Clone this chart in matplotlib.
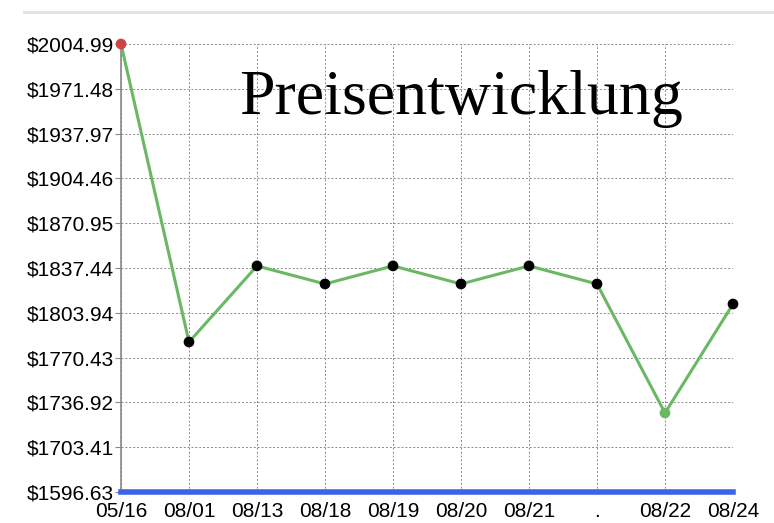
import numpy as np
import matplotlib.pyplot as plt
from matplotlib.lines import Line2D

plt.rcParams['font.family'] = ['Liberation Sans', 'DejaVu Sans']

# Daten
dates = ["05/16", "08/01", "08/13", "08/18", "08/19", "08/20", "08/21", ".", "08/22", "08/24"]
prices = [2004.99, 1782.1, 1839.0, 1825.5, 1839.0, 1825.5, 1839.0, 1825.5, 1729.0, 1810.5]
ytick_labels = ["$2004.99", "$1971.48", "$1937.97", "$1904.46", "$1870.95", "$1837.44",
                "$1803.94", "$1770.43", "$1736.92", "$1703.41", "$1596.63"]

y_top = 2004.99
y_step = 33.51
yticks = y_top - y_step * np.arange(len(ytick_labels))

fig = plt.figure(figsize=(7.74, 5.23), dpi=100)
ax = fig.add_axes([121 / 774, 1 - 492 / 523, (733 - 121) / 774, (492 - 44) / 523])

x = np.arange(len(dates))
ax.plot(x, prices, color='#6ab864', lw=2.2, zorder=3, clip_on=False)

# Marker: Maximum rot, Minimum grün, sonst schwarz
imax = int(np.argmax(prices))
imin = int(np.argmin(prices))
colors = ['#cc4444' if i == imax else '#6ab864' if i == imin else 'black' for i in range(len(prices))]
ax.scatter(x, prices, c=colors, s=45, zorder=4, clip_on=False)

ax.set_xlim(0, len(dates) - 1)
ax.set_ylim(yticks[-1], yticks[0])
ax.set_xticks(x)
ax.set_xticklabels(dates, fontsize=15)
ax.set_yticks(yticks)
ax.set_yticklabels(ytick_labels, fontsize=15)
ax.tick_params(axis='x', length=0, pad=7)
ax.tick_params(axis='y', length=4, color='#888888', pad=1)

ax.grid(True, color='#8a8a8a', ls=(0, (2, 2)), lw=0.7)
for s in ['top', 'right', 'bottom']:
    ax.spines[s].set_visible(False)
ax.spines['left'].set_color('#888888')
ax.spines['left'].set_linewidth(1.2)

# blaue Linie unten
ax.axhline(yticks[-1], color='#3a63e8', lw=4, zorder=5, clip_on=False)

ax.text(0.556, 0.878, "Preisentwicklung", transform=ax.transAxes, ha='center', va='center',
        fontsize=46, family='Liberation Serif')

# graue Linie oben
fig.add_artist(Line2D([24 / 774, 1], [1 - 12 / 523, 1 - 12 / 523], color='#e2e2e2', lw=2))

fig.savefig('out.png', dpi=100)
